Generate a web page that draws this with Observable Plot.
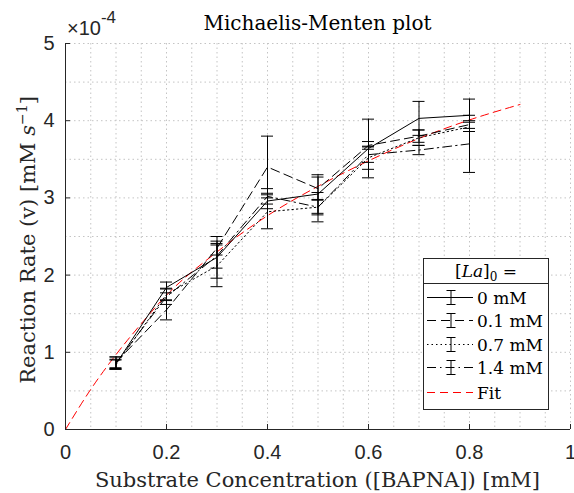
<!DOCTYPE html>
<html><head><meta charset="utf-8">
<script src="https://cdn.jsdelivr.net/npm/d3@7"></script>
<script src="https://cdn.jsdelivr.net/npm/@observablehq/plot@0.6"></script>
<style>body{margin:0;background:#fff} svg{display:block}</style>
</head><body><div id="chart"></div>
<script>
// ---- data (rates in units of 1e-4 mM/s) ----
const substrate = [0.1, 0.2, 0.3, 0.4, 0.5, 0.6, 0.7, 0.8];
const seriesNames = ["0 mM", "0.1 mM", "0.7 mM", "1.4 mM"];
const rate0  = [0.85, 1.84, 2.23, 2.96, 3.05, 3.64, 4.03, 4.07];
const err0   = [0.06, 0.07, 0.27, 0.10, 0.25, 0.38, 0.22, 0.21];
const rate01 = [0.87, 1.55, 2.35, 3.40, 3.12, 3.68, 3.80, 3.95];
const err01  = [0.07, 0.13, 0.09, 0.40, 0.15, 0.05, 0.08, 0.05];
const rate07 = [0.84, 1.75, 2.12, 2.82, 2.88, 3.52, 3.78, 3.92];
const err07  = [0.06, 0.08, 0.27, 0.22, 0.19, 0.15, 0.10, 0.06];
const rate14 = [0.86, 1.72, 2.25, 3.02, 2.88, 3.56, 3.62, 3.70];
const err14  = [0.08, 0.10, 0.16, 0.10, 0.10, 0.10, 0.06, 0.37];
const fitX = [0, 0.05, 0.1, 0.15, 0.2, 0.3, 0.4, 0.5, 0.6, 0.7, 0.8, 0.9];
const fitY = [0, 0.52, 0.97, 1.37, 1.74, 2.30, 2.77, 3.15, 3.48, 3.77, 4.01, 4.21];
const xTicks = [0, 0.2, 0.4, 0.6, 0.8, 1];
const yTicks = [0, 1, 2, 3, 4, 5];
const yExponent = "-4";
const titleText = "Michaelis-Menten plot";
const xLabel = "Substrate Concentration ([BAPNA]) [mM]";

const rates = [rate0, rate01, rate07, rate14];
const errs = [err0, err01, err07, err14];
const dashes = [null, "9,5", "1.5,3", "9,4,1.5,4"];

const rows = [];
seriesNames.forEach((s, k) => substrate.forEach((x, i) =>
  rows.push({series: s, x, y: rates[k][i], lo: rates[k][i] - errs[k][i], hi: rates[k][i] + errs[k][i]})));
const fitRows = fitX.map((x, i) => ({x, y: fitY[i]}));

const W = 574, H = 493, mT = 43, mB = 64, mL = 65, mR = 4;
const frameW = W - mL - mR, frameH = H - mT - mB;
const capHalf = 6 / frameW; // cap half-width in x units

const gridX = d3.range(0, 1.0001, 0.05);
const gridY = d3.range(0, 5.0001, 0.5);

const lineMarks = seriesNames.map((s, k) => Plot.line(rows.filter(r => r.series === s),
  {x: "x", y: "y", stroke: "#000", strokeWidth: 1, strokeDasharray: dashes[k] || undefined}));

const sans = "Liberation Sans, Arial, sans-serif";
const chart = Plot.plot({
  width: W, height: H,
  marginTop: mT, marginBottom: mB, marginLeft: mL, marginRight: mR,
  style: {fontFamily: sans, fontSize: "20px", background: "white", overflow: "visible"},
  x: {domain: [0, 1], label: null},
  y: {domain: [0, 5], label: null},
  marks: [
    Plot.gridX(gridX, {stroke: "#c4c4c4", strokeOpacity: 1, strokeDasharray: "1.5,3"}),
    Plot.gridY(gridY, {stroke: "#c4c4c4", strokeOpacity: 1, strokeDasharray: "1.5,3"}),
    Plot.line(fitRows, {x: "x", y: "y", stroke: "#ff0000", strokeWidth: 1, strokeDasharray: "8,5", curve: "monotone-x"}),
    ...lineMarks,
    Plot.ruleX(rows, {x: "x", y1: "lo", y2: "hi", stroke: "#000", strokeWidth: 1}),
    Plot.ruleY(rows, {y: "hi", x1: d => d.x - capHalf, x2: d => d.x + capHalf, stroke: "#000", strokeWidth: 1}),
    Plot.ruleY(rows, {y: "lo", x1: d => d.x - capHalf, x2: d => d.x + capHalf, stroke: "#000", strokeWidth: 1}),
    Plot.ruleY([0], {stroke: "#262626"}),
    Plot.ruleX([0], {stroke: "#262626"}),
    Plot.tickX(xTicks, {x: d => d, insetTop: frameH - 5, stroke: "#262626"}),
    Plot.tickY(yTicks, {y: d => d, insetRight: frameW - 5, stroke: "#262626"}),
    Plot.axisX(xTicks, {tickSize: 0, tickPadding: 15, tickFormat: d => String(+d.toFixed(1)), fill: "#262626", fontSize: 20}),
    Plot.axisY(yTicks, {tickSize: 0, tickPadding: 11, tickFormat: d => String(d), fill: "#262626", fontSize: 20})
  ]
});
document.getElementById("chart").appendChild(chart);

const svg = d3.select(chart);
const serif = "DejaVu Serif, serif";
// title
svg.append("text").attr("x", mL + frameW / 2).attr("y", 30).attr("text-anchor", "middle")
  .attr("font-family", serif).style("font-size", "20px").attr("fill", "#000").text(titleText);
// exponent
const ex = svg.append("text").attr("x", 67).attr("y", 35).attr("text-anchor", "start").attr("font-family", sans)
  .style("font-size", "20px").attr("fill", "#262626");
ex.append("tspan").text("\u00d710");
ex.append("tspan").attr("dy", -12).style("font-size", "17px").text(yExponent);
// x label
svg.append("text").attr("x", mL + frameW / 2).attr("y", 487).attr("text-anchor", "middle")
  .attr("font-family", serif).style("font-size", "21px").attr("fill", "#262626").text(xLabel);
// y label
const yl = svg.append("text").attr("transform", "translate(35,240) rotate(-90)").attr("text-anchor", "middle")
  .attr("font-family", serif).style("font-size", "21px").attr("fill", "#262626");
yl.append("tspan").text("Reaction Rate (v) [mM ");
yl.append("tspan").attr("font-style", "italic").text("s");
yl.append("tspan").attr("dy", -8).style("font-size", "14px").text("\u22121");
yl.append("tspan").attr("dy", 8).text("]");

// legend
const lg = svg.append("g").attr("text-anchor", "start");
const bx = 423.5, by = 258.5, bw = 125, bh = 151;
lg.append("rect").attr("x", bx).attr("y", by).attr("width", bw).attr("height", bh)
  .attr("fill", "#fff").attr("stroke", "#262626").attr("stroke-width", 1);
lg.append("line").attr("x1", bx).attr("x2", bx + bw).attr("y1", 283.5).attr("y2", 283.5).attr("stroke", "#262626");
const ht = lg.append("text").attr("x", bx + bw / 2).attr("y", 277).attr("text-anchor", "middle")
  .attr("font-family", serif).style("font-size", "17px").attr("fill", "#000");
ht.append("tspan").text("[");
ht.append("tspan").attr("font-style", "italic").text("La");
ht.append("tspan").text("]");
ht.append("tspan").attr("dy", 4).style("font-size", "12px").text("0");
ht.append("tspan").attr("dy", -4).text(" =");
const entries = seriesNames.map((s, k) => ({label: s, dash: dashes[k], color: "#000", bar: true}))
  .concat([{label: "Fit", dash: "8,5", color: "#ff0000", bar: false}]);
const rowY = [297.5, 320.5, 344.5, 367.5, 392.5];
entries.forEach((e, i) => {
  const yy = rowY[i];
  lg.append("line").attr("x1", 427).attr("x2", 473).attr("y1", yy).attr("y2", yy)
    .attr("stroke", e.color).attr("stroke-dasharray", e.dash).attr("stroke-width", 1);
  if (e.bar) {
    lg.append("line").attr("x1", 451).attr("x2", 451).attr("y1", yy - 7).attr("y2", yy + 7).attr("stroke", "#000");
    lg.append("line").attr("x1", 446.5).attr("x2", 455.5).attr("y1", yy - 7).attr("y2", yy - 7).attr("stroke", "#000");
    lg.append("line").attr("x1", 446.5).attr("x2", 455.5).attr("y1", yy + 7).attr("y2", yy + 7).attr("stroke", "#000");
  }
  lg.append("text").attr("x", 477).attr("y", yy + 6).attr("text-anchor", "start").attr("font-family", serif)
    .style("font-size", "17px").attr("fill", "#000").text(e.label);
});
</script></body></html>
